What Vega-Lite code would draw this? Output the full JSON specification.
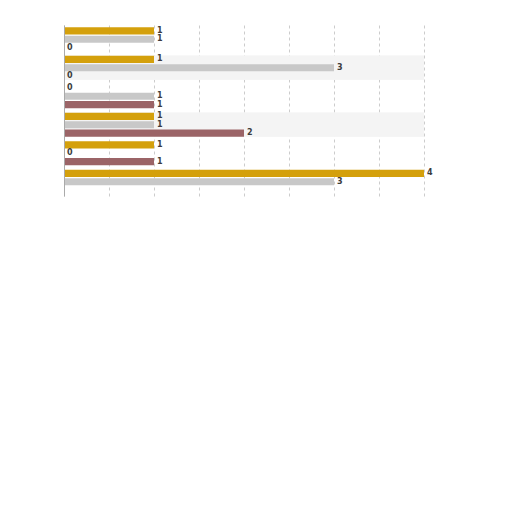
{
  "$schema": "https://vega.github.io/schema/vega-lite/v6.json",
  "autosize": "none",
  "padding": {"left": 64, "top": 25, "right": 24, "bottom": 316},
  "width": 360,
  "height": 171,
  "background": "white",
  "config": {"view": {"stroke": null}},
  "data": {
    "values": [
      {"group": "1", "series": "A", "value": 1},
      {"group": "1", "series": "B", "value": 1},
      {"group": "1", "series": "C", "value": 0},
      {"group": "2", "series": "A", "value": 1},
      {"group": "2", "series": "B", "value": 3},
      {"group": "2", "series": "C", "value": 0},
      {"group": "3", "series": "A", "value": 0},
      {"group": "3", "series": "B", "value": 1},
      {"group": "3", "series": "C", "value": 1},
      {"group": "4", "series": "A", "value": 1},
      {"group": "4", "series": "B", "value": 1},
      {"group": "4", "series": "C", "value": 2},
      {"group": "5", "series": "A", "value": 1},
      {"group": "5", "series": "B", "value": 0},
      {"group": "5", "series": "C", "value": 1},
      {"group": "6", "series": "A", "value": 4},
      {"group": "6", "series": "B", "value": 3}
    ]
  },
  "encoding": {
    "y": {
      "field": "group",
      "type": "nominal",
      "scale": {"paddingInner": 0.16, "paddingOuter": 0.08},
      "axis": {"title": null, "labels": false, "ticks": false, "domainColor": "#aaaaaa"}
    }
  },
  "layer": [
    {
      "transform": [{"filter": {"field": "group", "oneOf": ["2", "4"]}}],
      "mark": {"type": "rect", "color": "#f4f4f4"},
      "encoding": {
        "x": {"value": 0},
        "x2": {"value": "width"}
      }
    },
    {
      "mark": {"type": "bar", "cornerRadius": 0},
      "encoding": {
        "x": {
          "field": "value",
          "type": "quantitative",
          "scale": {"domain": [0, 4], "nice": false},
          "axis": {
            "title": null,
            "labels": false,
            "ticks": false,
            "domain": false,
            "values": [0, 0.5, 1, 1.5, 2, 2.5, 3, 3.5, 4],
            "gridColor": "#cccccc",
            "gridDash": [3, 3]
          }
        },
        "yOffset": {"field": "series", "scale": {"paddingInner": 0.15}},
        "color": {
          "field": "series",
          "type": "nominal",
          "scale": {"domain": ["A", "B", "C"], "range": ["#d4a00c", "#c8c8c8", "#9b6467"]},
          "legend": null
        }
      }
    },
    {
      "mark": {"type": "text", "align": "left", "baseline": "middle", "dx": 3, "fontSize": 8, "fontWeight": "bold", "font": "DejaVu Sans", "color": "#3c3c3c"},
      "encoding": {
        "x": {"field": "value", "type": "quantitative"},
        "yOffset": {"field": "series"},
        "text": {"field": "value", "type": "quantitative"}
      }
    }
  ]
}
